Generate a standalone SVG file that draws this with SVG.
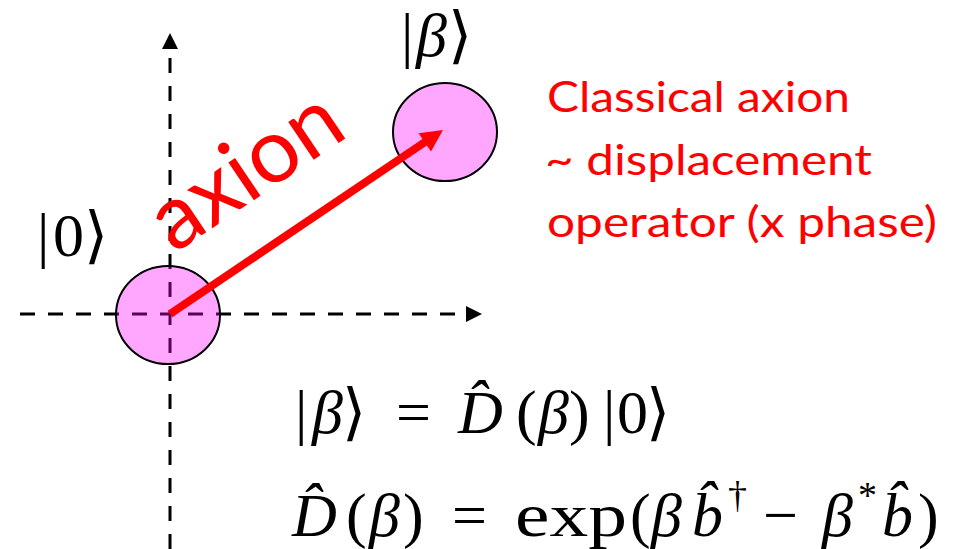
<svg xmlns="http://www.w3.org/2000/svg" width="971" height="549" viewBox="0 0 971 549">
<style>
.axis{stroke:#000;stroke-width:3;stroke-dasharray:15 13;fill:none}
.state{fill:#FF00FF;fill-opacity:0.35;stroke:#000;stroke-width:2}
.red{font-family:Lato,"Liberation Sans",sans-serif;fill:#FF0000}
.m{font-family:"Liberation Serif","DejaVu Serif",serif;font-size:62px;fill:#000}
.i{font-style:italic}
.sup{font-size:38px}
</style>
<rect width="971" height="549" fill="#fff"/>
<g id="axes">
<line class="axis" x1="20" y1="314" x2="468" y2="314"/>
<polygon points="482,314 466,306 466,322" fill="#000"/>
<line class="axis" x1="170" y1="549" x2="170" y2="48"/>
<polygon points="170,33 162,49 178,49" fill="#000"/>
</g>
<g id="state0">
<ellipse class="state" cx="168" cy="315" rx="52" ry="49"/>
<text class="m" y="256" font-size="60"><tspan x="37">|</tspan><tspan x="53">0</tspan><tspan x="84">⟩</tspan></text>
</g>
<g id="stateBeta">
<ellipse class="state" cx="445" cy="132" rx="52" ry="49"/>
<text class="m" y="56" font-size="57"><tspan x="401">|</tspan><tspan x="416" class="i">β</tspan><tspan x="448">⟩</tspan></text>
</g>
<g id="connectors">
<line x1="170" y1="314" x2="428" y2="140" stroke="#FF0000" stroke-width="8"/>
<polygon points="443,130 431,151.4 418.6,133.2" fill="#FF0000"/>
<text class="red" font-size="90" transform="translate(174,254) rotate(-34)">axion</text>
</g>
<g id="note">
<text class="red" font-size="42" x="547" y="112" textLength="303" lengthAdjust="spacingAndGlyphs">Classical axion</text>
<text class="red" font-size="42" x="545" y="174.5" textLength="327" lengthAdjust="spacingAndGlyphs">~ displacement</text>
<text class="red" font-size="42" x="547" y="237" textLength="390" lengthAdjust="spacingAndGlyphs">operator (x phase)</text>
</g>
<g id="eq1">
<text class="m" y="433"><tspan x="295">|</tspan><tspan x="312" class="i">β</tspan><tspan x="342">⟩</tspan><tspan x="396">=</tspan><tspan x="458" class="i">D̂</tspan><tspan x="516">(</tspan><tspan x="538" class="i">β</tspan><tspan x="569">)</tspan><tspan x="603">|</tspan><tspan x="617">0</tspan><tspan x="646">⟩</tspan></text>
</g>
<g id="eq2">
<text class="m" y="536"><tspan x="292" class="i">D̂</tspan><tspan x="346">(</tspan><tspan x="369" class="i">β</tspan><tspan x="403">)</tspan><tspan x="452">=</tspan><tspan x="515" textLength="112" lengthAdjust="spacingAndGlyphs">exp</tspan><tspan x="630">(</tspan><tspan x="651" class="i">β</tspan><tspan x="692" class="i">b̂</tspan><tspan x="728" y="508" class="sup">†</tspan><tspan x="763" y="536">−</tspan><tspan x="822" class="i">β</tspan><tspan x="858" y="508" class="sup">*</tspan><tspan x="882" y="536" class="i">b̂</tspan><tspan x="918">)</tspan></text>
</g>
</svg>
